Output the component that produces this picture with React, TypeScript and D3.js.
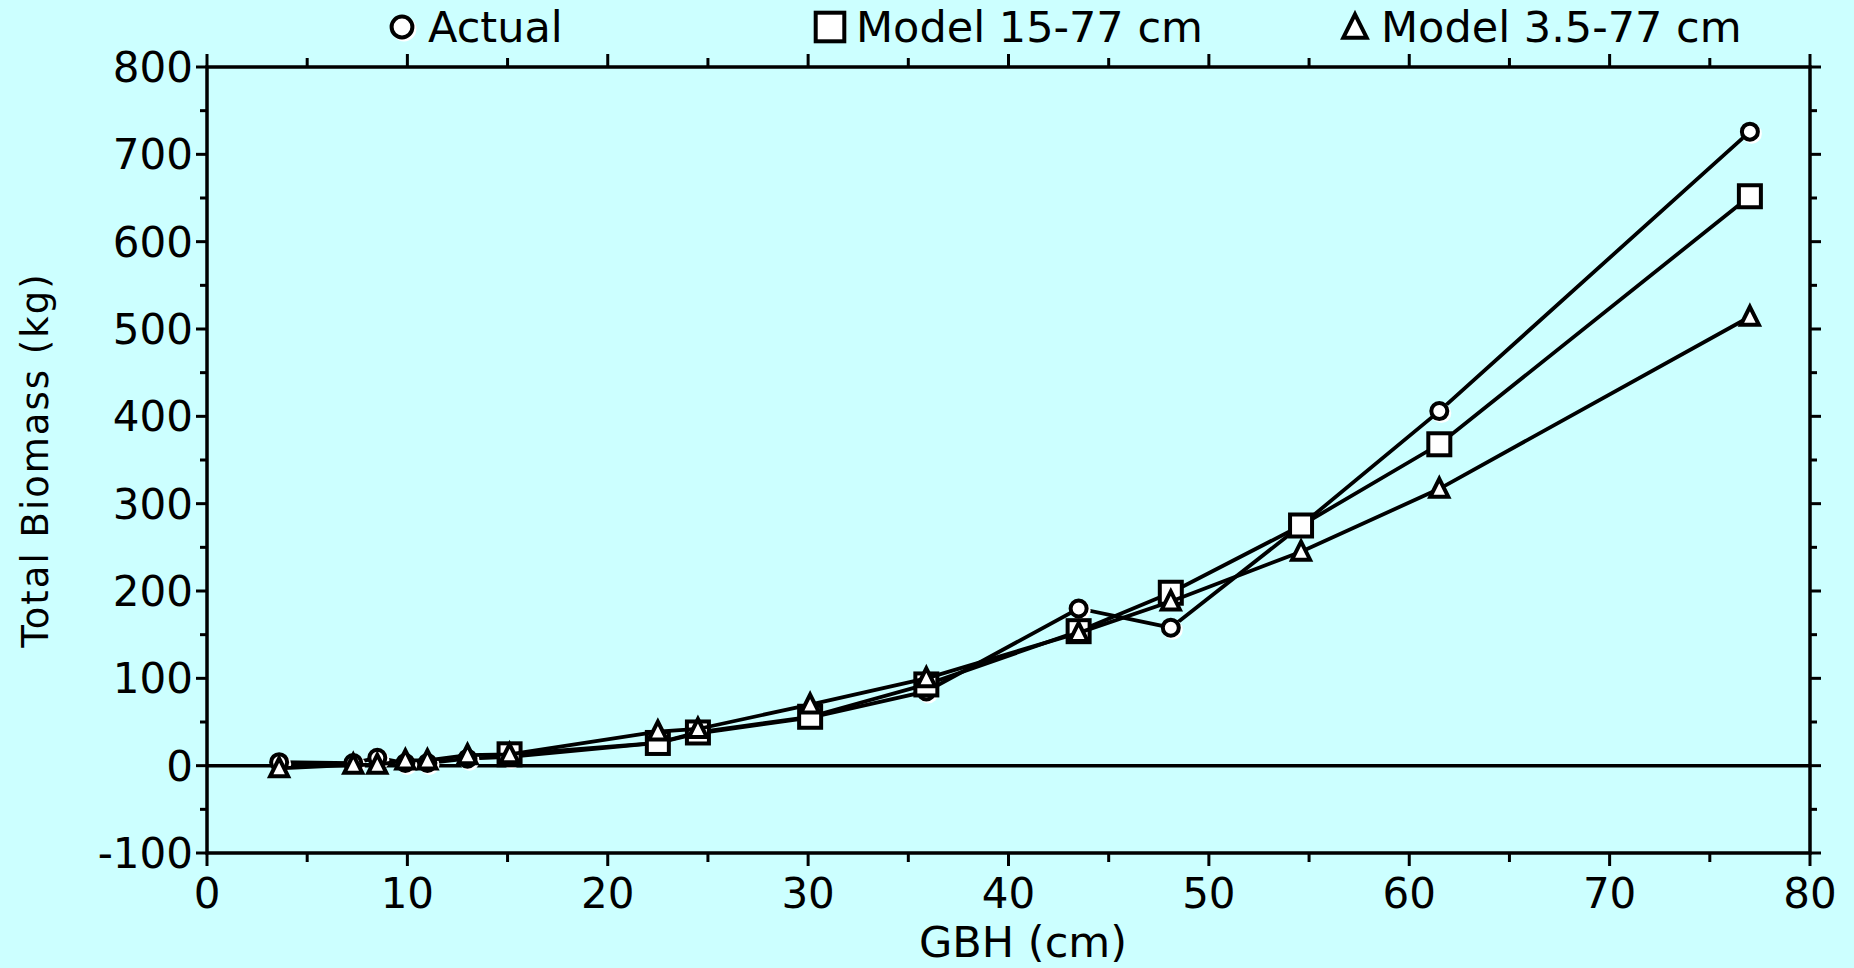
import React from "react";
import * as d3 from "d3";

// GBH (cm) of the sampled trees
const gbh = [3.6, 7.3, 8.5, 9.9, 11.0, 13.0, 15.1, 22.5, 24.5, 30.1, 35.9, 43.5, 48.1, 54.6, 61.5, 77.0];
// total biomass (kg)
const actual = [4, 3, 9, 3, 3, 8, 10, 26, 37, 55, 85, 180, 158, 275, 406, 726];
const model15 = [null, null, null, null, null, null, 13, 26, 38, 56, 93, 154, 198, 275, 368, 652];
const model35 = [-3, 1, 1, 6, 6, 12, 13, 39, 42, 70, 100, 152, 188, 245, 317, 514];

const seriesNames = ["Actual", "Model 15-77 cm", "Model 3.5-77 cm"];
const seriesShapes = ["circle", "square", "triangle"];
const seriesValues = [actual, model15, model35];

const xTicks = [0, 10, 20, 30, 40, 50, 60, 70, 80];
const yTicks = [-100, 0, 100, 200, 300, 400, 500, 600, 700, 800];

const W = 1854;
const H = 968;
const margin = { top: 67, right: 44, bottom: 115, left: 207 };
const BG = "#ccffff";
const FONT = "'DejaVu Sans', sans-serif";

const Marker = ({ shape, x, y, k = 1 }: { shape: string; x: number; y: number; k?: number }) => {
  const common = { fill: "#fff", stroke: "#000", strokeWidth: 4 };
  if (shape === "circle") {
    const r = 8 * k;
    return (
      <g>
        <circle cx={x + 2} cy={y + 2} r={r + 2} fill="#fff" />
        <circle cx={x} cy={y} r={r} {...common} />
      </g>
    );
  }
  if (shape === "square") {
    const s = 11 * k;
    return <rect x={x - s} y={y - s} width={2 * s} height={2 * s} {...common} />;
  }
  const s = 9 * k;
  const t = `M${x},${y - s - 1}L${x + s},${y + s - 1}L${x - s},${y + s - 1}Z`;
  return <path d={t} {...common} strokeLinejoin="miter" />;
};

export default function App() {
  const x = d3.scaleLinear().domain([0, 80]).range([margin.left, W - margin.right]);
  const y = d3.scaleLinear().domain([-100, 800]).range([H - margin.bottom, margin.top]);
  const [x0, x1] = x.range();
  const [y0, y1] = y.range();

  const xMinor = d3.range(5, 80, 10);
  const yMinor = d3.range(-50, 800, 100);

  const line = d3
    .line<[number, number | null]>()
    .defined((d) => d[1] != null)
    .x((d) => x(d[0]))
    .y((d) => y(d[1] as number));

  const legendX = [402, 830, 1355];

  return (
    <div style={{ position: "absolute", left: 0, top: 0 }}>
      <svg width={W} height={H} style={{ display: "block" }}>
        <rect width={W} height={H} fill={BG} />

        {/* zero line */}
        <line x1={x0} x2={x1} y1={y(0)} y2={y(0)} stroke="#000" strokeWidth={3.5} />

        {/* series */}
        {seriesValues.map((vals, i) => {
          const pts = gbh.map((g, j) => [g, vals[j]] as [number, number | null]);
          return (
            <g key={i}>
              <path d={line(pts) || ""} fill="none" stroke="#000" strokeWidth={3.8} />
              {pts
                .filter((p) => p[1] != null)
                .map((p, j) => (
                  <Marker key={j} shape={seriesShapes[i]} x={x(p[0])} y={y(p[1] as number)} />
                ))}
            </g>
          );
        })}

        {/* frame */}
        <rect x={x0} y={y1} width={x1 - x0} height={y0 - y1} fill="none" stroke="#000" strokeWidth={3.5} />

        {/* x ticks, bottom and top */}
        {xTicks.map((t) => (
          <g key={"xt" + t}>
            <line x1={x(t)} x2={x(t)} y1={y0} y2={y0 + 13} stroke="#000" strokeWidth={3} />
            <line x1={x(t)} x2={x(t)} y1={y1} y2={y1 - 13} stroke="#000" strokeWidth={3} />
            <text x={x(t)} y={y0 + 55} textAnchor="middle" fontFamily={FONT} fontSize={42} fill="#000">
              {t}
            </text>
          </g>
        ))}
        {xMinor.map((t) => (
          <g key={"xm" + t}>
            <line x1={x(t)} x2={x(t)} y1={y0} y2={y0 + 9} stroke="#000" strokeWidth={3} />
            <line x1={x(t)} x2={x(t)} y1={y1} y2={y1 - 9} stroke="#000" strokeWidth={3} />
          </g>
        ))}

        {/* y ticks, left and right */}
        {yTicks.map((t) => (
          <g key={"yt" + t}>
            <line x1={x0} x2={x0 - 11} y1={y(t)} y2={y(t)} stroke="#000" strokeWidth={3} />
            <line x1={x1} x2={x1 + 11} y1={y(t)} y2={y(t)} stroke="#000" strokeWidth={3} />
            <text
              x={x0 - 14}
              y={y(t)}
              dy="0.36em"
              textAnchor="end"
              fontFamily={FONT}
              fontSize={42}
              fill="#000"
            >
              {t}
            </text>
          </g>
        ))}
        {yMinor.map((t) => (
          <g key={"ym" + t}>
            <line x1={x0} x2={x0 - 7} y1={y(t)} y2={y(t)} stroke="#000" strokeWidth={3} />
            <line x1={x1} x2={x1 + 7} y1={y(t)} y2={y(t)} stroke="#000" strokeWidth={3} />
          </g>
        ))}

        {/* axis titles */}
        <text x={1023} y={957} textAnchor="middle" fontFamily={FONT} fontSize={43} fill="#000">
          GBH (cm)
        </text>
        <text
          transform={`translate(48,${(y0 + y1) / 2}) rotate(-90)`}
          textAnchor="middle"
          fontFamily={FONT}
          fontSize={37}
          letterSpacing={2}
          fill="#000"
        >
          Total Biomass (kg)
        </text>

        {/* legend */}
        {seriesNames.map((name, i) => (
          <g key={"lg" + i}>
            <Marker shape={seriesShapes[i]} x={legendX[i]} y={27} k={1.3} />
            <text x={legendX[i] + 26} y={42} fontFamily={FONT} fontSize={43} fill="#000">
              {name}
            </text>
          </g>
        ))}
      </svg>
    </div>
  );
}
